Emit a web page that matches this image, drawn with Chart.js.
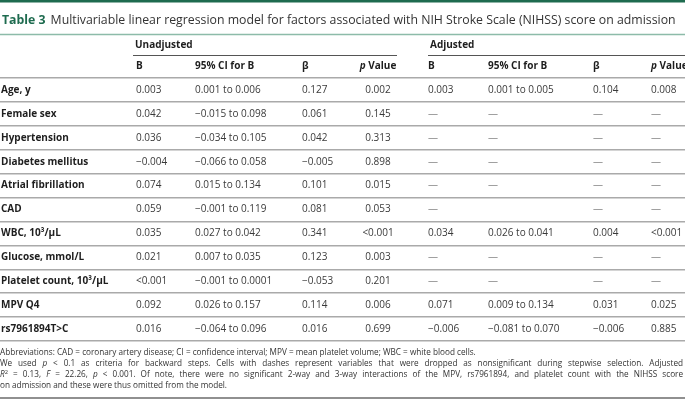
<!DOCTYPE html>
<html><head><meta charset="utf-8">
<script src="https://cdn.jsdelivr.net/npm/chart.js@4.4.0/dist/chart.umd.min.js"></script>
<style>html,body{margin:0;padding:0;background:#fff;}#wrap{position:relative;width:685px;height:406px;}</style>
</head><body><div id="wrap"><canvas id="c" width="685" height="406"></canvas></div>
<script>
// ---- data ----
const titleLabel = "Table 3";
const titleText = "Multivariable linear regression model for factors associated with NIH Stroke Scale (NIHSS) score on admission";
const groupLabels = ["Unadjusted", "Adjusted"];
const columnHeads = ["B", "95% CI for B", "β", "p Value", "B", "95% CI for B", "β", "p Value"];
const rowLabels = ["Age, y", "Female sex", "Hypertension", "Diabetes mellitus", "Atrial fibrillation", "CAD",
  "WBC, 10³/μL", "Glucose, mmol/L", "Platelet count, 10³/μL", "MPV Q4", "rs7961894T>C"];
const unadjB = ["0.003", "0.042", "0.036", "−0.004", "0.074", "0.059", "0.035", "0.021", "<0.001", "0.092", "0.016"];
const unadjCI = ["0.001 to 0.006", "−0.015 to 0.098", "−0.034 to 0.105", "−0.066 to 0.058", "0.015 to 0.134",
  "−0.001 to 0.119", "0.027 to 0.042", "0.007 to 0.035", "−0.001 to 0.0001", "0.026 to 0.157", "−0.064 to 0.096"];
const unadjBeta = ["0.127", "0.061", "0.042", "−0.005", "0.101", "0.081", "0.341", "0.123", "−0.053", "0.114", "0.016"];
const unadjP = ["0.002", "0.145", "0.313", "0.898", "0.015", "0.053", "<0.001", "0.003", "0.201", "0.006", "0.699"];
const adjB = ["0.003", "—", "—", "—", "—", "—", "0.034", "—", "—", "0.071", "−0.006"];
const adjCI = ["0.001 to 0.005", "—", "—", "—", "—", "", "0.026 to 0.041", "—", "—", "0.009 to 0.134", "−0.081 to 0.070"];
const adjBeta = ["0.104", "—", "—", "—", "—", "—", "0.004", "—", "—", "0.031", "−0.006"];
const adjP = ["0.008", "—", "—", "—", "—", "—", "<0.001", "—", "—", "0.025", "0.885"];
const footnoteLines = [
  [["Abbreviations: CAD = coronary artery disease; CI = confidence interval; MPV = mean platelet volume; WBC = white blood cells.", ""]],
  [["We used ", ""], ["p", "i"], [" < 0.1 as criteria for backward steps. Cells with dashes represent variables that were dropped as nonsignificant during stepwise selection. Adjusted", ""]],
  [["R", "i"], ["2", "sup"], [" = 0.13, ", ""], ["F", "i"], [" = 22.26, ", ""], ["p", "i"], [" < 0.001. Of note, there were no significant 2-way and 3-way interactions of the MPV, rs7961894, and platelet count with the NIHSS score", ""]],
  [["on admission and these were thus omitted from the model.", ""]]
];
const footnoteJustify = [false, true, true, false];

// ---- layout / style ----
const FONT = "'Open Sans', 'Noto Sans', sans-serif";
const GREEN = "#1e6b4f";
const TEXT = "#3a3a3a";
const DARK = "#1e1e1e";
const colX = [136, 195, 302, 378, 428, 488, 593, 651];
const colAlign = ["left", "left", "left", "center", "left", "left", "left", "left"];
const colValues = [unadjB, unadjCI, unadjBeta, unadjP, adjB, adjCI, adjBeta, adjP];
const groupSpan = [[133, 397], [428, 685]];

function fontFor(style, size, bold) {
  const it = style === "i" ? "italic " : "";
  const w = bold ? "bold " : "";
  const s = style === "sup" ? size * 0.7 : size;
  return it + w + s + "px " + FONT;
}
function drawRuns(c, runs, x, y, align, size, bold, color, justifyWidth) {
  let total = 0, spaces = 0;
  runs.forEach(r => {
    c.font = fontFor(r[1], size, bold);
    total += c.measureText(r[0]).width;
    spaces += (r[0].match(/ /g) || []).length;
  });
  const extra = justifyWidth && spaces ? (justifyWidth - total) / spaces : 0;
  let cx = align === "center" ? x - total / 2 : (align === "right" ? x - total : x);
  c.textAlign = "left";
  c.textBaseline = "middle";
  c.fillStyle = color;
  runs.forEach(r => {
    c.font = fontFor(r[1], size, bold);
    const dy = r[1] === "sup" ? -size * 0.35 : 0;
    if (extra) {
      const parts = r[0].split(" ");
      parts.forEach((p, j) => {
        if (p) c.fillText(p, cx, y + dy);
        cx += c.measureText(p).width;
        if (j < parts.length - 1) cx += c.measureText(" ").width + extra;
      });
    } else {
      c.fillText(r[0], cx, y + dy);
      cx += c.measureText(r[0]).width;
    }
  });
}

const tablePlugin = {
  id: "tableText",
  afterDraw(chart) {
    const c = chart.ctx, ys = chart.scales.y, a = chart.chartArea, W = chart.width;
    c.save();
    // top bar
    c.fillStyle = GREEN;
    c.fillRect(0, 0, W, 2.5);
    // title
    c.textBaseline = "middle";
    c.textAlign = "left";
    c.font = "bold 12.3px " + FONT;
    c.fillStyle = GREEN;
    c.fillText(titleLabel, 2, 20.5);
    const tw = c.measureText(titleLabel).width;
    c.font = "12.3px " + FONT;
    c.fillStyle = "#333";
    c.fillText(titleText, 2 + tw + 5, 20.5);
    // title rule
    c.strokeStyle = "#8dbba9";
    c.lineWidth = 1.5;
    c.beginPath(); c.moveTo(0, 34.5); c.lineTo(W, 34.5); c.stroke();
    // group headers
    groupLabels.forEach((g, k) => {
      drawRuns(c, [[g, ""]], groupSpan[k][0] + 2, a.top - 33, "left", 10, true, DARK);
      c.strokeStyle = "#555";
      c.lineWidth = 1;
      c.beginPath(); c.moveTo(groupSpan[k][0], a.top - 22.5); c.lineTo(groupSpan[k][1], a.top - 22.5); c.stroke();
    });
    // column headers
    columnHeads.forEach((h, k) => {
      const runs = h.startsWith("p ") ? [["p", "i"], [h.slice(1), ""]] : [[h, ""]];
      drawRuns(c, runs, colX[k], a.top - 12, colAlign[k], 10, true, DARK);
    });
    // cells
    colValues.forEach((vals, k) => {
      vals.forEach((v, i) => {
        drawRuns(c, [[v, ""]], colX[k], ys.getPixelForValue(i), colAlign[k], 10, false, v === "—" ? "#8a8a8a" : TEXT);
      });
    });
    // footnote
    footnoteLines.forEach((runs, i) => {
      drawRuns(c, runs, 0, a.bottom + 12 + i * 11, "left", 8.2, false, "#333", footnoteJustify[i] ? 683 : 0);
    });
    // bottom rule
    c.strokeStyle = "#222";
    c.lineWidth = 1.2;
    c.beginPath(); c.moveTo(0, 398); c.lineTo(W, 398); c.stroke();
    c.restore();
  }
};

new Chart(document.getElementById("c"), {
  type: "bar",
  data: { labels: rowLabels, datasets: [{ data: rowLabels.map(() => null) }] },
  options: {
    responsive: false,
    animation: false,
    indexAxis: "y",
    layout: { padding: { top: 78, bottom: 65, left: 0, right: 0 } },
    plugins: { legend: { display: false }, tooltip: { enabled: false }, title: { display: false } },
    scales: {
      x: { type: "linear", display: false, min: 0, max: 1 },
      y: {
        type: "category",
        position: "left",
        offset: true,
        afterFit: s => { s.width = 0; },
        border: { display: false },
        grid: {
          offset: true,
          drawTicks: false,
          color: ctx => ctx.index === rowLabels.length ? "#999999" : "#aaaaaa",
          lineWidth: ctx => ctx.index === rowLabels.length ? 2 : 1.4
        },
        ticks: {
          mirror: true,
          padding: 1,
          color: DARK,
          font: { family: FONT, weight: "bold", size: 10 }
        }
      }
    }
  },
  plugins: [tablePlugin]
});
</script>
</body></html>
